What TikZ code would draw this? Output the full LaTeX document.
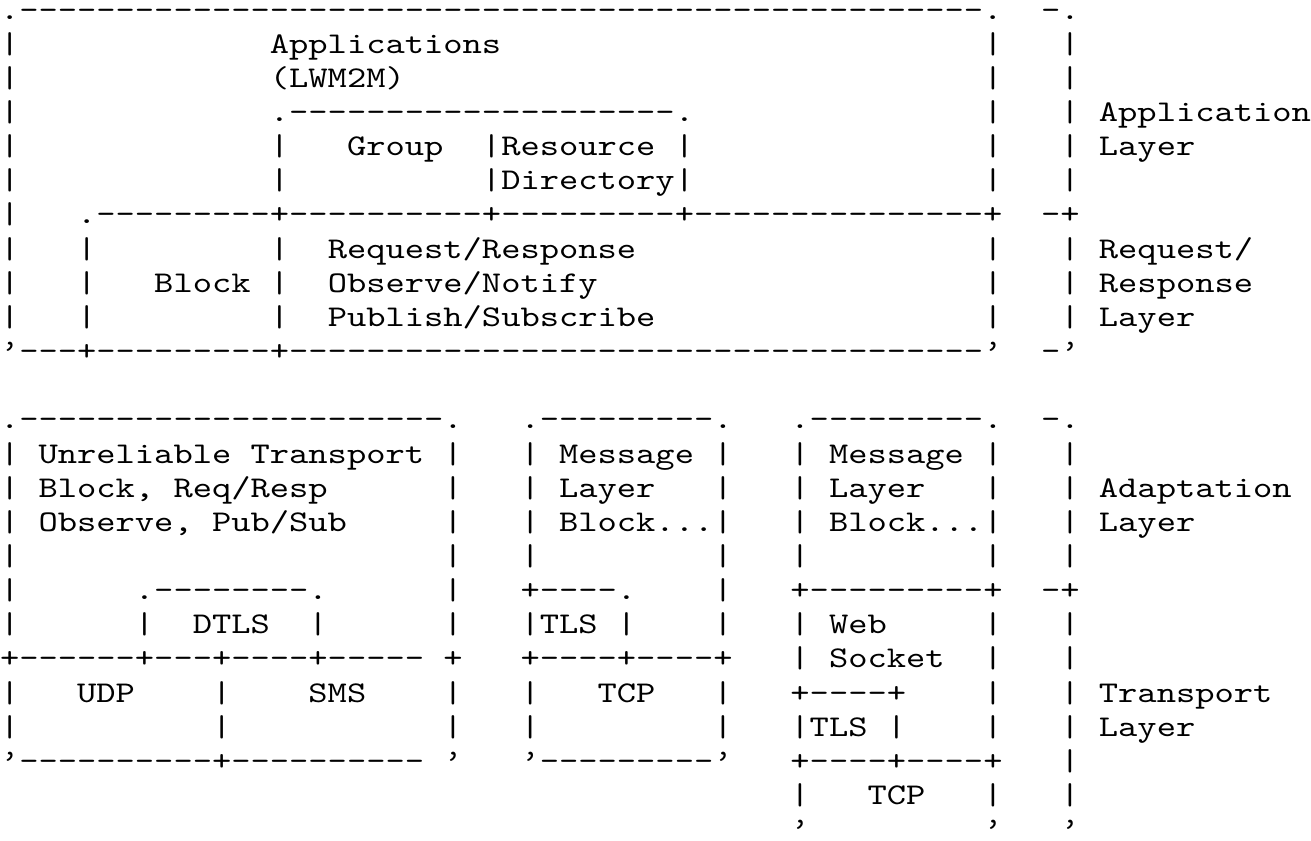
\documentclass[tikz,border=0pt]{standalone}
\usepackage{fontspec}
\setmonofont{lmmono10-regular.otf}[FakeStretch=1.2195]
\begin{document}
\begin{tikzpicture}[x=1pt,y=1pt]
% character grid: one column is \cw wide, one row is \rh high
\def\cw{5.25}
\def\rh{9.3}
\tikzset{cell/.style={anchor=base west, inner sep=0pt, outer sep=0pt,
  font=\ttfamily\fontsize{8.2}{9}\selectfont, text=black}}
% place a piece of text at column #1 of row #2
\newcommand\putc[3]{\node[cell] (r#2c#1) at ({#1*\cw},{-#2*\rh}) {#3};}
\fill[white] (0,5.2) rectangle (357,-223.8);
\useasboundingbox (0,5.2) rectangle (357,-223.8);
% ---- application and request/response layers
\putc{0}{0}{.--------------------------------------------------.}
\putc{54}{0}{-.}
\putc{0}{1}{|}\putc{14}{1}{Applications}\putc{51}{1}{|}\putc{55}{1}{|}
\putc{0}{2}{|}\putc{14}{2}{(LWM2M)}\putc{51}{2}{|}\putc{55}{2}{|}
\putc{0}{3}{|}\putc{14}{3}{.--------------------.}\putc{51}{3}{|}\putc{55}{3}{|}\putc{57}{3}{Application}
\putc{0}{4}{|}\putc{14}{4}{|}\putc{18}{4}{Group}\putc{25}{4}{|Resource}\putc{35}{4}{|}\putc{51}{4}{|}\putc{55}{4}{|}\putc{57}{4}{Layer}
\putc{0}{5}{|}\putc{14}{5}{|}\putc{25}{5}{|Directory|}\putc{51}{5}{|}\putc{55}{5}{|}
\putc{0}{6}{|}\putc{4}{6}{.---------+----------+---------+---------------+}\putc{54}{6}{-+}
\putc{0}{7}{|}\putc{4}{7}{|}\putc{14}{7}{|}\putc{17}{7}{Request/Response}\putc{51}{7}{|}\putc{55}{7}{|}\putc{57}{7}{Request/}
\putc{0}{8}{|}\putc{4}{8}{|}\putc{8}{8}{Block}\putc{14}{8}{|}\putc{17}{8}{Observe/Notify}\putc{51}{8}{|}\putc{55}{8}{|}\putc{57}{8}{Response}
\putc{0}{9}{|}\putc{4}{9}{|}\putc{14}{9}{|}\putc{17}{9}{Publish/Subscribe}\putc{51}{9}{|}\putc{55}{9}{|}\putc{57}{9}{Layer}
\putc{0}{10}{’---+---------+------------------------------------’}
\putc{54}{10}{-’}
% ---- adaptation and transport layers
\putc{0}{12}{.----------------------.}\putc{27}{12}{.---------.}\putc{41}{12}{.---------.}\putc{54}{12}{-.}
\putc{0}{13}{|}\putc{2}{13}{Unreliable Transport}\putc{23}{13}{|}\putc{27}{13}{|}\putc{29}{13}{Message}\putc{37}{13}{|}\putc{41}{13}{|}\putc{43}{13}{Message}\putc{51}{13}{|}\putc{55}{13}{|}
\putc{0}{14}{|}\putc{2}{14}{Block, Req/Resp}\putc{23}{14}{|}\putc{27}{14}{|}\putc{29}{14}{Layer}\putc{37}{14}{|}\putc{41}{14}{|}\putc{43}{14}{Layer}\putc{51}{14}{|}\putc{55}{14}{|}\putc{57}{14}{Adaptation}
\putc{0}{15}{|}\putc{2}{15}{Observe, Pub/Sub}\putc{23}{15}{|}\putc{27}{15}{|}\putc{29}{15}{Block...|}\putc{41}{15}{|}\putc{43}{15}{Block...|}\putc{55}{15}{|}\putc{57}{15}{Layer}
\putc{0}{16}{|}\putc{23}{16}{|}\putc{27}{16}{|}\putc{37}{16}{|}\putc{41}{16}{|}\putc{51}{16}{|}\putc{55}{16}{|}
\putc{0}{17}{|}\putc{7}{17}{.--------.}\putc{23}{17}{|}\putc{27}{17}{+----.}\putc{37}{17}{|}\putc{41}{17}{+---------+}\putc{54}{17}{-+}
\putc{0}{18}{|}\putc{7}{18}{|}\putc{10}{18}{DTLS}\putc{16}{18}{|}\putc{23}{18}{|}\putc{27}{18}{|TLS}\putc{32}{18}{|}\putc{37}{18}{|}\putc{41}{18}{|}\putc{43}{18}{Web}\putc{51}{18}{|}\putc{55}{18}{|}
\putc{0}{19}{+------+---+----+-----}\putc{23}{19}{+}\putc{27}{19}{+----+----+}\putc{41}{19}{|}\putc{43}{19}{Socket}\putc{51}{19}{|}\putc{55}{19}{|}
\putc{0}{20}{|}\putc{4}{20}{UDP}\putc{11}{20}{|}\putc{16}{20}{SMS}\putc{23}{20}{|}\putc{27}{20}{|}\putc{31}{20}{TCP}\putc{37}{20}{|}\putc{41}{20}{+----+}\putc{51}{20}{|}\putc{55}{20}{|}\putc{57}{20}{Transport}
\putc{0}{21}{|}\putc{11}{21}{|}\putc{23}{21}{|}\putc{27}{21}{|}\putc{37}{21}{|}\putc{41}{21}{|TLS}\putc{46}{21}{|}\putc{51}{21}{|}\putc{55}{21}{|}\putc{57}{21}{Layer}
\putc{0}{22}{’----------+----------}\putc{23}{22}{’}\putc{27}{22}{’---------’}\putc{41}{22}{+----+----+}\putc{55}{22}{|}
\putc{41}{23}{|}\putc{45}{23}{TCP}\putc{51}{23}{|}\putc{55}{23}{|}
\putc{41}{24}{’}\putc{51}{24}{’}\putc{55}{24}{’}
\end{tikzpicture}
\end{document}
